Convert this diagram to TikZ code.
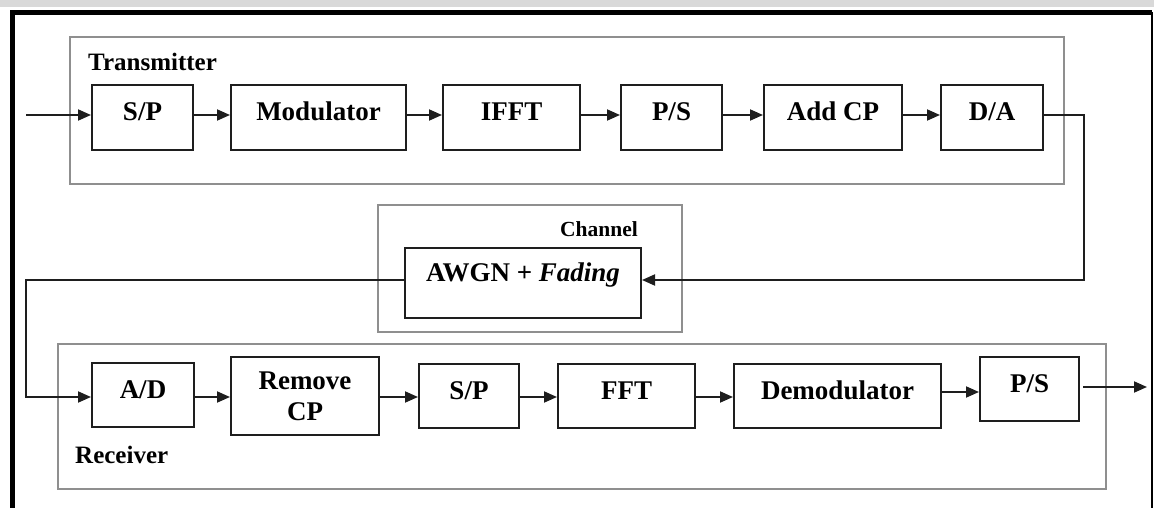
\documentclass[tikz,border=0pt]{standalone}
\usepackage{fontspec}
\setmainfont{Liberation Serif}
\usetikzlibrary{arrows.meta}
\definecolor{boxline}{HTML}{1E1E1E}
\definecolor{grpline}{HTML}{8F8F8F}
\definecolor{band}{HTML}{D9D9D9}
\tikzset{
  box/.style={draw=boxline, line width=2pt, inner sep=0pt, fill=white,
    font=\fontsize{27}{30}\selectfont\bfseries, text height=18pt, text depth=11.5pt},
  box2/.style={draw=boxline, line width=2pt, inner sep=0pt, fill=white, align=center,
    font=\fontsize{27}{31}\selectfont\bfseries},
  group/.style={draw=grpline, line width=2pt, inner sep=0pt},
  lbl/.style={inner sep=0pt, font=\fontsize{25}{28}\selectfont\bfseries},
  arr/.style={draw=boxline, line width=1.9pt, -{Triangle[length=13pt,width=11pt]}}
}
\begin{document}
\begin{tikzpicture}[x=1pt,y=-1pt]
\useasboundingbox (0,0) rectangle (1154,508);
\clip (0,0) rectangle (1154,508);
\fill[band] (0,0) rectangle (1154,7);
% outer frame
\draw[line width=5pt] (12.5,530) -- (12.5,12.5) -- (1152,12.5);
\draw[line width=2.5pt] (1152,12.5) -- (1152,530);
% groups
\node[group, minimum width=994pt, minimum height=147pt] (txg) at (567,110.5) {};
\node[group, minimum width=304pt, minimum height=127pt] (chg) at (530,268.5) {};
\node[group, minimum width=1048pt, minimum height=145pt] (rxg) at (582,416.5) {};
\node[lbl, anchor=base west] (txl) at (88,71) {Transmitter};
\node[lbl, anchor=base west, font=\fontsize{21.5}{24}\selectfont\bfseries] (chl) at (560,236) {Channel};
\node[lbl, anchor=base west] (rxl) at (75,463) {Receiver};
% transmitter blocks
\node[box, minimum width=101pt, minimum height=65pt] (tsp) at (142.5,117.5) {S/P};
\node[box, minimum width=175pt, minimum height=65pt] (tmod) at (318.5,117.5) {Modulator};
\node[box, minimum width=137pt, minimum height=65pt] (tifft) at (511.5,117.5) {IFFT};
\node[box, minimum width=101pt, minimum height=65pt] (tps) at (671.5,117.5) {P/S};
\node[box, minimum width=138pt, minimum height=65pt] (tcp) at (833,117.5) {Add CP};
\node[box, minimum width=102pt, minimum height=65pt] (tda) at (992,117.5) {D/A};
% channel
\node[box, minimum width=236pt, minimum height=70pt, text depth=20.5pt] (awgn) at (523,283) {AWGN + \textit{Fading}};
% receiver blocks
\node[box, minimum width=102pt, minimum height=64pt] (rad) at (143,395) {A/D};
\node[box2, minimum width=148pt, minimum height=78pt] (rrm) at (305,396) {Remove\\CP};
\node[box, minimum width=100pt, minimum height=64pt] (rsp) at (469,396) {S/P};
\node[box, minimum width=137pt, minimum height=64pt] (rfft) at (626.5,396) {FFT};
\node[box, minimum width=207pt, minimum height=64pt] (rdem) at (837.5,396) {Demodulator};
\node[box, minimum width=99pt, minimum height=64pt] (rps) at (1029.5,389) {P/S};
% helper coordinates
\coordinate (ty) at (0,115);
\coordinate (in) at (26,115);
\coordinate (c1) at (1084,115);
\coordinate (c2) at (1084,280);
\coordinate (c3) at (26,280);
\coordinate (c4) at (26,397);
\coordinate (ry) at (0,397);
\coordinate (dy) at (0,392);
\coordinate (oy) at (0,387);
\coordinate (out) at (1147,387);
% transmitter connectors
\draw[arr] (in) -- (tsp.west |- in);
\draw[arr] (tsp.east |- ty) -- (tmod.west |- ty);
\draw[arr] (tmod.east |- ty) -- (tifft.west |- ty);
\draw[arr] (tifft.east |- ty) -- (tps.west |- ty);
\draw[arr] (tps.east |- ty) -- (tcp.west |- ty);
\draw[arr] (tcp.east |- ty) -- (tda.west |- ty);
% to channel
\draw[arr] (tda.east |- ty) -- (c1) -- (c2) -- (awgn.east |- c2);
% to receiver
\draw[arr] (awgn.west |- c3) -- (c3) -- (c4) -- (rad.west |- c4);
\draw[arr] (rad.east |- ry) -- (rrm.west |- ry);
\draw[arr] (rrm.east |- ry) -- (rsp.west |- ry);
\draw[arr] (rsp.east |- ry) -- (rfft.west |- ry);
\draw[arr] (rfft.east |- ry) -- (rdem.west |- ry);
\draw[arr] (rdem.east |- dy) -- (rps.west |- dy);
\draw[arr, shorten <=3pt] (rps.east |- oy) -- (out);
\end{tikzpicture}
\end{document}
